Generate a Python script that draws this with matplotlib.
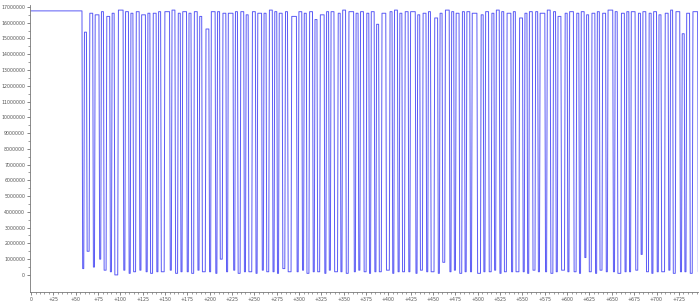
import numpy as np
import matplotlib.pyplot as plt

# signal: flat start, then alternating low / high segments
start_level = 16.75e6
first_drop = 57.0
end_x = 746

low_len = [2, 3, 2, 2, 3, 2, 4, 2, 2, 3, 2, 2, 3, 2, 4, 2, 3, 2, 2, 3,
           2, 4, 2, 2, 3, 2, 2, 3, 2, 4, 2, 2, 3, 2, 2, 3, 4, 2, 2, 3,
           2, 3, 2, 2, 4, 2, 3, 2, 2, 3, 2, 2, 3, 4, 2, 2, 3, 2, 2, 3,
           2, 4, 2, 3, 2, 2, 3, 2, 2, 4, 2, 3, 2, 2, 3, 2, 4, 2, 2, 3,
           2, 2, 3, 2, 4, 2, 3, 2, 2, 3, 2, 3, 2, 2, 4, 2, 2, 3, 2, 3,
           2, 2, 4, 2, 3, 2, 2, 3, 2, 3]
high_len = [3, 4, 5, 3, 4, 3, 6, 4, 3, 4, 5, 3, 4, 3, 6, 4, 3, 5, 3, 4,
            3, 4, 5, 3, 4, 6, 3, 4, 3, 4, 5, 3, 4, 3, 4, 3, 6, 4, 3, 4,
            3, 5, 3, 4, 3, 4, 6, 3, 4, 3, 4, 3, 5, 3, 4, 3, 4, 6, 3, 4,
            3, 4, 3, 5, 3, 4, 3, 4, 6, 3, 4, 3, 4, 3, 5, 3, 4, 3, 4, 3,
            6, 4, 3, 4, 3, 5, 3, 4, 3, 4, 3, 4, 6, 3, 4, 3, 5, 3, 4, 3,
            4, 3, 4, 3, 5, 3, 4, 6, 3, 4]
low_lvl = [0.4, 1.5, 0.5, 1.0, 0.3, 0.2, 0.0, 0.3, 0.1, 0.2, 0.3, 0.2, 0.1, 0.2, 0.2, 0.3, 0.1, 0.2, 0.2, 0.1,
           0.3, 0.2, 0.2, 0.1, 1.0, 0.2, 0.3, 0.1, 0.2, 0.2, 0.1, 0.3, 0.2, 0.2, 0.1, 0.4, 0.2, 0.2, 0.3, 0.1,
           0.2, 0.2, 0.1, 0.3, 0.2, 0.2, 0.1, 0.2, 0.3, 0.2, 0.1, 0.2, 0.2, 0.3, 0.1, 0.2, 0.2, 0.2, 0.1, 0.3,
           0.2, 0.2, 0.1, 0.8, 0.2, 0.3, 0.1, 0.2, 0.2, 0.1, 0.2, 0.2, 0.3, 0.1, 0.2, 0.2, 0.2, 0.2, 0.1, 0.3,
           0.2, 0.2, 0.1, 0.2, 0.3, 0.2, 0.2, 0.1, 1.1, 0.2, 0.1, 0.3, 0.2, 0.2, 0.1, 0.2, 0.2, 0.3, 1.3, 0.2,
           0.1, 0.2, 0.2, 0.3, 0.1, 0.2, 0.2, 0.1, 0.2, 0.2]
high_lvl = [15.4, 16.6, 16.5, 16.7, 16.4, 16.6, 16.8, 16.7, 16.6, 16.7, 16.5, 16.6, 16.6, 16.7, 16.7, 16.8, 16.6, 16.7, 16.6, 16.7,
            16.4, 15.6, 16.7, 16.7, 16.6, 16.6, 16.7, 16.7, 16.5, 16.7, 16.6, 16.6, 16.8, 16.7, 16.6, 16.7, 16.4, 16.7, 16.6, 16.7,
            16.2, 16.5, 16.7, 16.7, 16.6, 16.8, 16.7, 16.6, 16.7, 16.6, 16.7, 15.9, 16.6, 16.7, 16.8, 16.6, 16.7, 16.7, 16.5, 16.6,
            16.7, 16.3, 16.6, 16.8, 16.7, 16.6, 16.7, 16.7, 16.6, 16.5, 16.7, 16.6, 16.8, 16.7, 16.6, 16.7, 16.3, 16.6, 16.7, 16.7,
            16.6, 16.8, 16.7, 16.4, 16.6, 16.7, 16.6, 16.7, 16.5, 16.6, 16.7, 16.6, 16.8, 16.7, 16.6, 16.7, 16.7, 16.6, 16.7, 16.6,
            16.7, 16.5, 16.6, 16.8, 16.7, 15.3, 16.6, 16.7, 16.6, 16.7]

# build the polyline
xs = [0.0, first_drop]
ys = [start_level, start_level]
t = first_drop
for lo, hi, lv, hv in zip(low_len, high_len, low_lvl, high_lvl):
    xs += [t + 0.8, t + lo]
    ys += [lv * 1e6, lv * 1e6]
    t += lo
    xs += [t + 0.8, t + hi]
    ys += [hv * 1e6, hv * 1e6]
    t += hi
if t < end_x:
    xs.append(end_x)
    ys.append(ys[-1])

fig = plt.figure(figsize=(6.99, 3.06), dpi=100)
ax = fig.add_axes([0.043, 0.046, 0.955, 0.938])
ax.plot(xs, ys, color='#5a5af5', lw=0.7)

ax.set_xlim(-1.1, end_x)
ax.set_ylim(-1.08e6, 17.13e6)
ax.set_xticks(np.arange(0, 726, 25))
ax.set_xticklabels(['0'] + ['+%d' % v for v in range(25, 726, 25)])
ax.set_xticks(np.arange(0, 746, 5), minor=True)
ax.set_yticks(np.arange(0, 17000001, 1000000))
ax.set_yticklabels(['%d' % v for v in range(0, 17000001, 1000000)])
ax.set_yticks(np.arange(0, 17000001, 500000), minor=True)
ax.tick_params(labelsize=3.4, colors='#555555', length=2, width=0.5, pad=1.5)
ax.tick_params(which='minor', length=1.2, width=0.4, colors='#555555')
for s in ['top', 'right']:
    ax.spines[s].set_visible(False)
for s in ['left', 'bottom']:
    ax.spines[s].set_color('#777777')
    ax.spines[s].set_linewidth(0.6)

fig.savefig('out.png', dpi=100)
